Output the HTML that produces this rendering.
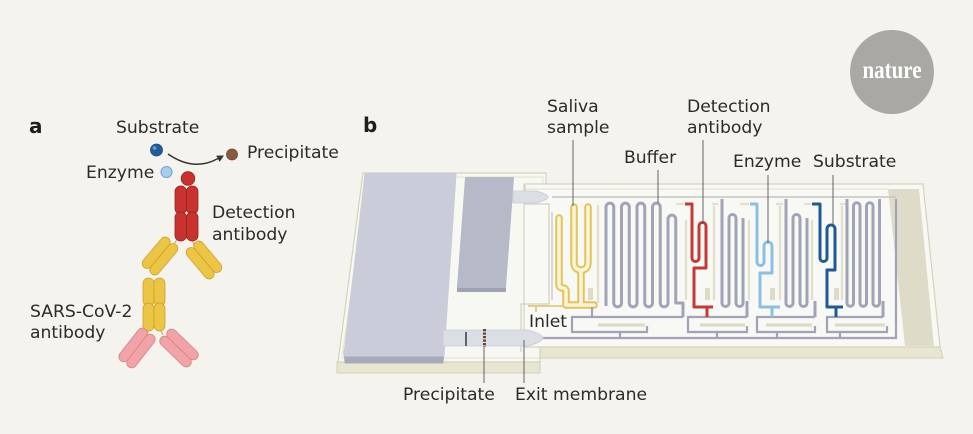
<!DOCTYPE html>
<html><head><meta charset="utf-8">
<style>
html,body{margin:0;padding:0;background:#f4f3ed;}
svg{display:block}
.t{font-family:"DejaVu Sans","Liberation Sans",sans-serif;font-size:17.2px;fill:#2b2b2b}
.lab{font-family:"DejaVu Sans","Liberation Sans",sans-serif;font-weight:bold;fill:#1e1e1e}
</style></head><body>
<svg width="973" height="434" viewBox="0 0 973 434" xmlns="http://www.w3.org/2000/svg">
<rect width="973" height="434" fill="#f4f3ed"/>

<!-- nature logo -->
<circle cx="892" cy="72" r="42" fill="#a9a8a3"/>
<g transform="translate(892,78) scale(1,1.22)"><text x="0" y="0" text-anchor="middle" style="font-family:'Liberation Serif',serif;font-weight:bold;font-size:21px;fill:#ffffff">nature</text></g>

<!-- ================= PANEL A ================= -->
<text class="lab" x="29" y="133" style="font-size:20px">a</text>
<text class="t" x="116" y="133">Substrate</text>
<text class="t" x="247" y="158">Precipitate</text>
<text class="t" x="86" y="178">Enzyme</text>
<text class="t" x="212" y="218">Detection</text>
<text class="t" x="212" y="240">antibody</text>
<text class="t" x="30" y="317">SARS-CoV-2</text>
<text class="t" x="30" y="338">antibody</text>

<circle cx="156.5" cy="150" r="6" fill="#1e5c9c" stroke="#164a80" stroke-width="0.8"/>
<circle cx="154.5" cy="148" r="1.8" fill="#6f9fd0"/>
<path d="M168,154 Q194,172 218,158.5" fill="none" stroke="#333" stroke-width="1.5"/>
<polygon points="224,155.5 219.6,161.9 216.2,155.6" fill="#333"/>
<circle cx="232" cy="154.5" r="5.5" fill="#8a5a40" stroke="#6e4631" stroke-width="0.8"/>
<circle cx="166.5" cy="172" r="5.5" fill="#aacde9" stroke="#6fa3cf" stroke-width="1"/>
<circle cx="188" cy="178.5" r="6.8" fill="#c8312e" stroke="#9c2220" stroke-width="0.8"/>

<!-- hinge lines -->
<g stroke="#b9a66a" stroke-width="0.9" fill="none">
<line x1="178" y1="238" x2="174" y2="244"/>
<line x1="192" y1="238" x2="194" y2="246"/>
<line x1="149" y1="329" x2="147" y2="335"/>
<line x1="160" y1="329" x2="163" y2="335"/>
</g>

<!-- red Fc -->
<g fill="#c8322f" stroke="#9a2220" stroke-width="0.8">
<rect x="175" y="186" width="11.5" height="28" rx="5.5"/>
<rect x="175" y="212" width="11.5" height="29" rx="5.5"/>
<rect x="186.5" y="186" width="11.5" height="28" rx="5.5"/>
<rect x="186.5" y="212" width="11.5" height="29" rx="5.5"/>
</g>
<!-- yellow arms -->
<g transform="translate(160,256) rotate(40)" fill="#ecc545" stroke="#cea02c" stroke-width="0.8">
<rect x="-10" y="-19" width="10" height="38" rx="5"/><rect x="0" y="-19" width="10" height="38" rx="5"/>
</g>
<g transform="translate(204,260) rotate(-40)" fill="#ecc545" stroke="#cea02c" stroke-width="0.8">
<rect x="-10" y="-19" width="10" height="38" rx="5"/><rect x="0" y="-19" width="10" height="38" rx="5"/>
</g>
<!-- yellow Fc -->
<g fill="#ecc545" stroke="#cea02c" stroke-width="0.8">
<rect x="143" y="278" width="11" height="28" rx="5.5"/>
<rect x="143" y="303" width="11" height="28" rx="5.5"/>
<rect x="154" y="278" width="11" height="28" rx="5.5"/>
<rect x="154" y="303" width="11" height="28" rx="5.5"/>
</g>
<!-- pink arms -->
<g transform="translate(137,348) rotate(38)" fill="#f2a3a7" stroke="#d7828a" stroke-width="0.8">
<rect x="-10" y="-20" width="10" height="40" rx="5"/><rect x="0" y="-20" width="10" height="40" rx="5"/>
</g>
<g transform="translate(179,348) rotate(-46)" fill="#f2a3a7" stroke="#d7828a" stroke-width="0.8">
<rect x="-10" y="-20" width="10" height="40" rx="5"/><rect x="0" y="-20" width="10" height="40" rx="5"/>
</g>

<!-- ================= PANEL B ================= -->
<text class="lab" x="363" y="132" style="font-size:20px">b</text>
<text class="t" x="547" y="112">Saliva</text>
<text class="t" x="547" y="133">sample</text>
<text class="t" x="624" y="163">Buffer</text>
<text class="t" x="687" y="112">Detection</text>
<text class="t" x="687" y="133">antibody</text>
<text class="t" x="733" y="167">Enzyme</text>
<text class="t" x="813" y="167">Substrate</text>
<text class="t" x="403" y="400">Precipitate</text>
<text class="t" x="515" y="400">Exit membrane</text>

<!-- left plate -->
<polygon points="337,362 540,362 540,373 337,373" fill="#e8e6d1" stroke="#d2d0b9" stroke-width="1"/>
<polygon points="363,173 546,173 546,347 540,347 540,362 338,362" fill="#f8f8f3" stroke="#d5d3bd" stroke-width="1.2"/>
<polygon points="367,177 543,177 540,358 342,358" fill="none" stroke="#e3e1cf" stroke-width="1"/>

<!-- right section -->
<polygon points="540,347 940,347 943,358 540,358" fill="#e8e6d1" stroke="#d2d0b9" stroke-width="1"/>
<polygon points="524,184 923,184 940,347 524,347" fill="#f8f8f4" stroke="#d5d3bd" stroke-width="1.2"/>
<polygon points="888,189 919,189 934,346 905,346" fill="#dedcc9"/>
<line x1="526" y1="189" x2="888" y2="189" stroke="#e0decb" stroke-width="1"/>

<!-- frame lines left side of right section -->
<path d="M525,185 V204 H549 V304 H521 V352" fill="none" stroke="#d2d0bb" stroke-width="1.2"/>
<path d="M552,212 V300" fill="none" stroke="#cbccd2" stroke-width="1.5"/>

<!-- top thin line -->
<line x1="552" y1="197" x2="896" y2="197" stroke="#c4c4c2" stroke-width="1.6"/>

<!-- big block -->
<polygon points="345,352 443,352 442,362 346,362" fill="#a7aabb" stroke="#a7aabb" stroke-width="3" stroke-linejoin="round"/>
<polygon points="366,174 455,174 443,355 345,355" fill="#caccd9" stroke="#caccd9" stroke-width="3" stroke-linejoin="round"/>
<!-- small block -->
<polygon points="458,285 505,285 505,291 458,291" fill="#9fa2b2" stroke="#9fa2b2" stroke-width="2" stroke-linejoin="round"/>
<polygon points="466,178 513,178 505,287 458,287" fill="#b6b9c8" stroke="#b6b9c8" stroke-width="2" stroke-linejoin="round"/>

<!-- top pill -->
<path d="M513,191 H536 Q548,194 548,197 Q548,200 536,203 H513 Z" fill="#dcdee6" stroke="#c9cbd4" stroke-width="0.8"/>

<!-- beige decorations -->
<g stroke="#e2dfcc" stroke-width="2.2" fill="none">
<line x1="598" y1="205" x2="598" y2="303"/>
<line x1="686" y1="220" x2="686" y2="300"/>
<line x1="714" y1="206" x2="714" y2="300"/>
<line x1="749" y1="220" x2="749" y2="300"/>
<line x1="780" y1="206" x2="780" y2="300"/>
<line x1="812" y1="220" x2="812" y2="300"/>
<line x1="842" y1="206" x2="842" y2="300"/>
<line x1="676" y1="204" x2="684" y2="204"/>
<line x1="740" y1="204" x2="749" y2="204"/>
<line x1="804" y1="204" x2="811" y2="204"/>
<line x1="712" y1="204" x2="718" y2="204"/>
<line x1="776" y1="204" x2="783" y2="204"/>
<line x1="840" y1="204" x2="846" y2="204"/>
</g>
<g fill="#dedbc6">
<rect x="588" y="288" width="5" height="12"/>
<rect x="705" y="288" width="5" height="12"/>
<rect x="770" y="288" width="5" height="12"/>
<rect x="834" y="288" width="5" height="12"/>
</g>

<!-- inlet thin line -->
<path d="M528,306 H562 M536,306 V312" fill="none" stroke="#e2cf86" stroke-width="2"/>

<!-- yellow saliva tree -->
<g fill="none" stroke="#e2c35a" stroke-width="7.5" stroke-linecap="round" stroke-linejoin="round">
<path d="M559,218 V284 Q559,288 563,288 Q566,288 566,292 V305"/>
<path d="M574,207 V262 Q574,270 581,270 Q588,270 588,262 V207"/>
<path d="M581,270 V305"/>
<path d="M566,305 H594"/>
</g>
<g fill="none" stroke="#fbf4d6" stroke-width="3.6" stroke-linecap="round" stroke-linejoin="round">
<path d="M559,218 V284 Q559,288 563,288 Q566,288 566,292 V305"/>
<path d="M574,207 V262 Q574,270 581,270 Q588,270 588,262 V207"/>
<path d="M581,270 V305"/>
<path d="M566,305 H594"/>
</g>

<!-- gray serpentines -->
<g fill="none" stroke="#a0a4b6" stroke-width="3" stroke-linejoin="round">
<path d="M606,306 V207 A3.875,3.875 0 0 1 613.75,207 V303 A3.875,3.875 0 0 0 621.5,303 V207 A3.875,3.875 0 0 1 629.25,207 V303 A3.875,3.875 0 0 0 637,303 V207 A3.875,3.875 0 0 1 644.75,207 V303 A3.875,3.875 0 0 0 652.5,303 V207 A3.875,3.875 0 0 1 660.25,207 V303 A3.875,3.875 0 0 0 668,303 V219 A3.875,3.875 0 0 1 675.75,219 V303 H683 V317"/>
<path d="M722,199 V303 A3.5,3.5 0 0 0 729,303 V218 A3.5,3.5 0 0 1 736,218 V303 A3.5,3.5 0 0 0 743,303 V218"/>
<path d="M747,301 V317"/>
<path d="M786,199 V303 A3.5,3.5 0 0 0 793,303 V218 A3.5,3.5 0 0 1 800,218 V303 A3.5,3.5 0 0 0 807,303 V218"/>
<path d="M815,301 V317"/>
<path d="M847,199 V303 A3.25,3.25 0 0 0 853.5,303 V206 A3.25,3.25 0 0 1 860,206 V303 A3.25,3.25 0 0 0 866.5,303 V206 A3.25,3.25 0 0 1 873,206 V303 A3.25,3.25 0 0 0 879.5,303 V199"/>
<path d="M883,301 V317"/>
</g>

<!-- manifolds -->
<g fill="none" stroke="#a0a4b6" stroke-width="2.2">
<path d="M683,317 H572 V332 H647 V326"/>
<path d="M747,317 H688 V332 H747 V326"/>
<path d="M815,317 H757 V332 H815 V326"/>
<path d="M883,317 H827 V332 H887 V326"/>
<path d="M543,338 H896 V199"/>
<path d="M620,332 V338 M717,332 V338 M777,332 V338 M840,332 V338"/>
<path d="M592,307 V317"/>
</g>
<g stroke="#dcd9c4" stroke-width="3">
<line x1="598" y1="325" x2="645" y2="325"/>
<line x1="700" y1="325" x2="745" y2="325"/>
<line x1="766" y1="325" x2="812" y2="325"/>
<line x1="835" y1="325" x2="885" y2="325"/>
</g>

<!-- colored channels -->
<g fill="none" stroke-width="3" stroke-linejoin="round">
<path d="M685,204 H692 V258 A3.5,3.5 0 0 0 699,258 V226 A3.5,3.5 0 0 1 706,226 V268 H694 V307 H713 M707,307 V317" stroke="#c43a36"/>
<path d="M750,204 H757 V262 A3.5,3.5 0 0 0 764,262 V246 A4,4 0 0 1 772,246 V273 H760 V307 H780 M772,307 V317" stroke="#8cc0e3"/>
<path d="M812,204 H820 V258 A3.5,3.5 0 0 0 827,258 V229 A4,4 0 0 1 835,229 V270 H827 V307 H843 M836,307 V317" stroke="#1f5a94"/>
</g>

<!-- exit strip -->
<path d="M443,330 H528 Q542,334 543,338 Q542,342 528,346 H443 Z" fill="#dcdee6" stroke="#c8cad3" stroke-width="0.8"/>
<rect x="465" y="332" width="2" height="14" fill="#5d606d"/>
<line x1="484.5" y1="329" x2="484.5" y2="347" stroke="#6b4530" stroke-width="3" stroke-dasharray="2.2 1.3"/>

<!-- leader lines -->
<g stroke="#555" stroke-width="0.9">
<line x1="484" y1="347" x2="484" y2="383"/>
<line x1="524" y1="340" x2="524" y2="383"/>
<line x1="573" y1="140" x2="573" y2="206"/>
<line x1="658" y1="170" x2="658" y2="203"/>
<line x1="703" y1="140" x2="703" y2="223"/>
<line x1="768" y1="175" x2="768" y2="243"/>
<line x1="833" y1="175" x2="833" y2="226"/>
</g>

<text class="t" x="529" y="327">Inlet</text>
</svg>
</body></html>
